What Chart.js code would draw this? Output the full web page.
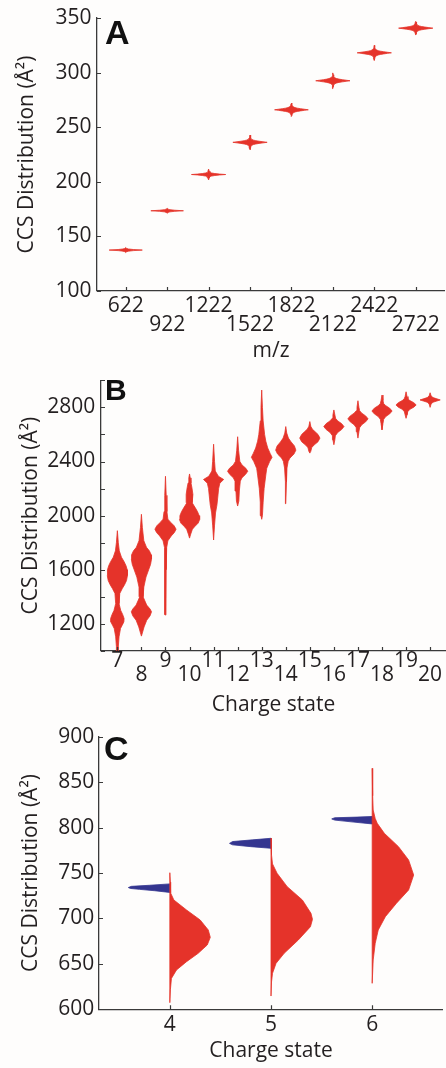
<!DOCTYPE html>
<html>
<head>
<meta charset="utf-8">
<script src="https://cdn.jsdelivr.net/npm/chart.js@4.4.1/dist/chart.umd.min.js"></script>
<style>
  body { margin: 0; background: #fefdfc; width: 446px; height: 1068px; overflow: hidden; position: relative; }
  canvas { position: absolute; left: 0; }
  .letter { position: absolute; font-family: "Liberation Sans", Arial, sans-serif; font-weight: bold; color: #111; }
</style>
</head>
<body>
<canvas id="chartA" width="446" height="362" style="top:0"></canvas>
<canvas id="chartB" width="446" height="354" style="top:362px"></canvas>
<canvas id="chartC" width="446" height="352" style="top:716px"></canvas>
<div class="letter" style="left:105px;top:14.5px;font-size:34px;line-height:34px">A</div>
<div class="letter" style="left:105px;top:375.3px;font-size:30px;line-height:30px">B</div>
<div class="letter" style="left:104px;top:730.7px;font-size:34px;line-height:34px">C</div>
<script>
// CCS distributions - three violin panels (A: m/z series, B/C: charge states)

// ---- Panel A: CCS vs m/z ----
const mzA = [622, 922, 1222, 1522, 1822, 2122, 2422, 2722];
const ccsA = [137.5, 173.5, 206.7, 236.2, 266, 292.6, 318.2, 340.8];
// [CCS offset from centre (Å²), half width (m/z)], mirrored above/below the centre
const profA = [
  [[0, 120], [0.5, 55], [1, 20], [1.5, 7], [2.3, 0]],
  [[0, 118], [0.5, 55], [1, 20], [1.5, 7], [2.3, 0]],
  [[0, 124], [0.4, 80], [0.9, 45], [1.4, 22], [1.9, 10], [3, 5], [5, 0]],
  [[0, 124], [0.5, 94], [1, 66], [1.5, 42], [2, 26], [2.7, 13], [4, 6], [5.5, 3], [6.7, 0]],
  [[0, 122], [0.5, 94], [1, 66], [1.5, 42], [2, 26], [2.7, 13], [4, 6], [5.5, 3], [6.2, 0]],
  [[0, 124], [0.5, 96], [1, 68], [1.5, 44], [2, 28], [2.7, 14], [4, 6], [5.5, 3], [7.2, 0]],
  [[0, 124], [0.5, 96], [1, 68], [1.5, 44], [2, 28], [2.7, 14], [4, 6], [5.5, 3], [6.9, 0]],
  [[0, 124], [0.5, 94], [1, 66], [1.5, 42], [2, 26], [2.7, 13], [4, 6], [5.5, 3], [6.2, 0]]
];
const yTicksA = [100, 150, 200, 250, 300, 350];

// ---- Panel B: CCS vs charge state ----
const chargeB = [7, 8, 9, 10, 11, 12, 13, 14, 15, 16, 17, 18, 19, 20];
// [CCS (Å²), half width (charge units)], top to bottom
const profB = [
  [[1889, 0], [1800, 0.04], [1740, 0.08], [1693, 0.17], [1660, 0.28], [1630, 0.36], [1600, 0.41], [1558, 0.42], [1520, 0.38], [1490, 0.3], [1460, 0.2], [1425, 0.1], [1350, 0.07], [1300, 0.14], [1270, 0.22], [1240, 0.28], [1215, 0.27], [1190, 0.2], [1166, 0.13], [1105, 0.07], [1032, 0.04], [1000, 0.03]],
  [[2010, 0], [1912, 0.04], [1815, 0.1], [1766, 0.21], [1740, 0.33], [1710, 0.41], [1680, 0.42], [1640, 0.38], [1600, 0.3], [1546, 0.19], [1472, 0.1], [1400, 0.07], [1339, 0.22], [1310, 0.36], [1290, 0.42], [1260, 0.36], [1227, 0.22], [1178, 0.11], [1140, 0.05], [1110, 0]],
  [[2291, 0], [2150, 0.03], [2030, 0.06], [1974, 0.1], [1950, 0.22], [1925, 0.36], [1900, 0.44], [1875, 0.37], [1850, 0.24], [1814, 0.1], [1765, 0.05], [1600, 0.03], [1270, 0.02], [1265, 0]],
  [[2308, 0], [2279, 0.03], [2242, 0.06], [2206, 0.1], [2157, 0.14], [2095, 0.11], [2058, 0.24], [2030, 0.33], [2000, 0.4], [1972, 0.42], [1945, 0.36], [1920, 0.22], [1900, 0.12], [1864, 0.05], [1834, 0]],
  [[2528, 0], [2400, 0.04], [2330, 0.07], [2291, 0.2], [2267, 0.42], [2240, 0.26], [2200, 0.21], [2130, 0.17], [2080, 0.14], [2020, 0.08], [1930, 0.04], [1820, 0]],
  [[2583, 0], [2480, 0.04], [2401, 0.09], [2375, 0.18], [2350, 0.34], [2328, 0.42], [2305, 0.33], [2280, 0.18], [2255, 0.11], [2182, 0.07], [2108, 0.05], [2071, 0]],
  [[2928, 0], [2800, 0.03], [2700, 0.06], [2600, 0.12], [2550, 0.17], [2500, 0.25], [2460, 0.35], [2431, 0.43], [2400, 0.33], [2350, 0.21], [2300, 0.17], [2200, 0.1], [2100, 0.06], [2000, 0.03], [1973, 0]],
  [[2658, 0], [2610, 0.04], [2573, 0.11], [2545, 0.22], [2515, 0.36], [2484, 0.42], [2455, 0.34], [2425, 0.17], [2401, 0.1], [2352, 0.05], [2250, 0.03], [2088, 0]],
  [[2695, 0], [2660, 0.04], [2640, 0.1], [2620, 0.22], [2600, 0.34], [2573, 0.42], [2546, 0.34], [2525, 0.2], [2504, 0.08], [2475, 0.04], [2462, 0]],
  [[2781, 0], [2745, 0.04], [2719, 0.07], [2700, 0.16], [2680, 0.32], [2658, 0.42], [2636, 0.32], [2615, 0.16], [2590, 0.06], [2560, 0.04], [2524, 0]],
  [[2849, 0], [2800, 0.04], [2775, 0.07], [2757, 0.16], [2737, 0.32], [2715, 0.42], [2693, 0.32], [2672, 0.16], [2650, 0.07], [2620, 0.04], [2573, 0]],
  [[2891, 0], [2850, 0.04], [2828, 0.07], [2812, 0.16], [2794, 0.32], [2773, 0.42], [2752, 0.32], [2733, 0.16], [2712, 0.07], [2680, 0.04], [2634, 0]],
  [[2915, 0], [2880, 0.04], [2862, 0.08], [2850, 0.16], [2835, 0.32], [2818, 0.42], [2801, 0.32], [2786, 0.16], [2768, 0.07], [2745, 0.04], [2719, 0]],
  [[2908, 0], [2885, 0.04], [2872, 0.12], [2863, 0.28], [2855, 0.42], [2847, 0.28], [2838, 0.12], [2825, 0.04], [2800, 0]]
];

// ---- Panel C: split violins per charge state ----
const chargeC = [4, 5, 6];
// red half (right side), [CCS, half width]
const redC = [
  [[750.3, 0], [740, 0.005], [728, 0.008], [720.3, 0.04], [709.3, 0.165], [698.3, 0.3], [687.3, 0.38], [679.2, 0.4], [670.8, 0.37], [661.6, 0.28], [652.4, 0.165], [643.3, 0.066], [634, 0.016], [622, 0.006], [607.3, 0]],
  [[788.2, 0], [770, 0.005], [760, 0.015], [749.7, 0.06], [735, 0.16], [720.3, 0.31], [705.7, 0.395], [699, 0.41], [690.9, 0.39], [676.3, 0.27], [661.6, 0.13], [650.6, 0.05], [639.6, 0.015], [630, 0.005], [614.6, 0]],
  [[865.2, 0], [835, 0.005], [819.3, 0.01], [810, 0.03], [804.7, 0.05], [793.7, 0.12], [779, 0.26], [764.3, 0.36], [747.8, 0.41], [731.3, 0.36], [716.7, 0.24], [701.9, 0.13], [687.3, 0.06], [672.6, 0.03], [654.3, 0.01], [628.6, 0]]
];
// blue half (left side), [CCS, half width]
const blueC = [
  [[738, 0], [736.5, 0.2], [735.3, 0.38], [734, 0.41], [733, 0.39], [732, 0.3], [730.5, 0.15], [728.6, 0]],
  [[788.2, 0], [786.5, 0.18], [784.6, 0.38], [782.6, 0.41], [781, 0.38], [779, 0.2], [777.2, 0]],
  [[812.2, 0], [811.5, 0.15], [810.8, 0.37], [809.5, 0.4], [808.2, 0.37], [806, 0.18], [804, 0]]
];

const RED = '#e5332a';
const BLUE = '#34358f';
const AXIS = '#3a3a3a';
const FONT = '"Open Sans", "Noto Sans", sans-serif';

Chart.defaults.font.family = FONT;
Chart.defaults.font.size = 21;
Chart.defaults.color = '#231f20';

// outline of one violin: right edge top->bottom, then left edge bottom->top
function violin(center, prof, side) {
  const right = prof.map(([y, w]) => ({ x: center + w, y: y }));
  const left = prof.map(([y, w]) => ({ x: center - w, y: y })).reverse();
  const top = prof[0][0], bottom = prof[prof.length - 1][0];
  if (side === 'right') return right.concat([{ x: center, y: bottom }, { x: center, y: top }]);
  if (side === 'left') return [{ x: center, y: top }, { x: center, y: bottom }].concat(left);
  return right.concat(left);
}

function violinSet(points, color) {
  return {
    data: points, showLine: true, fill: 'shape', tension: 0,
    backgroundColor: color, borderColor: color, borderWidth: 0.8,
    pointRadius: 0, pointHoverRadius: 0
  };
}

// MATLAB style ticks pointing into the plot
const inwardTicks = {
  id: 'inwardTicks',
  afterDraw(chart) {
    const { ctx, chartArea } = chart;
    const xs = chart.scales.x, ys = chart.scales.y;
    ctx.save();
    ctx.strokeStyle = AXIS;
    ctx.lineWidth = 1.2;
    ctx.beginPath();
    xs.ticks.forEach(t => {
      const px = Math.round(xs.getPixelForValue(t.value)) + 0.5;
      ctx.moveTo(px, chartArea.bottom);
      ctx.lineTo(px, chartArea.bottom - 4);
    });
    ys.ticks.forEach(t => {
      const py = Math.round(ys.getPixelForValue(t.value)) + 0.5;
      ctx.moveTo(chartArea.left, py);
      ctx.lineTo(chartArea.left + 4, py);
    });
    ctx.stroke();
    ctx.restore();
  }
};

function axisBase() {
  return {
    type: 'linear',
    border: { display: true, color: AXIS, width: 1.3 },
    grid: { display: true, drawOnChartArea: false, drawTicks: false, lineWidth: 0 }
  };
}

function makeChart(id, datasets, o) {
  const x = Object.assign(axisBase(), {
    min: o.xMin, max: o.xMax,
    afterBuildTicks: s => { s.ticks = o.xTicks.map(v => ({ value: v })); },
    afterFit: s => { s.height = o.xHeight; },
    ticks: {
      autoSkip: false, maxRotation: 0, minRotation: 0, padding: o.xPad,
      font: { size: 21, lineHeight: o.xLine },
      callback: (v, i) => (o.stagger && i % 2) ? ['', String(v)] : String(v)
    },
    title: { display: true, text: o.xTitle, font: { size: 21, lineHeight: 1 }, padding: { top: 0, bottom: o.xTitlePad } }
  });
  const y = Object.assign(axisBase(), {
    min: o.yMin, max: o.yMax,
    afterBuildTicks: s => { s.ticks = o.yTicks.map(v => ({ value: v })); },
    afterFit: s => { s.width = o.yWidth; },
    ticks: {
      autoSkip: false, padding: o.yPad,
      callback: v => (o.yLabels.includes(v) ? String(v) : '')
    },
    title: { display: true, text: 'CCS Distribution (Å²)', font: { size: 21, lineHeight: 1 }, padding: { top: o.yTitlePad, bottom: 0 } }
  });
  return new Chart(document.getElementById(id), {
    type: 'scatter',
    data: { datasets: datasets },
    options: {
      responsive: false, animation: false, events: [],
      layout: { padding: { top: o.top, right: o.right, left: 0, bottom: 0 } },
      plugins: { legend: { display: false }, tooltip: { enabled: false } },
      scales: { x: x, y: y }
    },
    plugins: [inwardTicks]
  });
}

// Panel A
const setsA = mzA.map((mz, i) => {
  const upper = profA[i].slice().reverse().map(([d, w]) => [ccsA[i] + d, w]);
  const lower = profA[i].slice(1).map(([d, w]) => [ccsA[i] - d, w]);
  return violinSet(violin(mz, upper.concat(lower)), RED);
});
makeChart('chartA', setsA, {
  xMin: 414, xMax: 2934, xTicks: mzA, xHeight: 71, xPad: 5.25, xLine: 0.92, stagger: true,
  xTitle: 'm/z', xTitlePad: 0.3,
  yMin: 100, yMax: 350, yTicks: yTicksA, yLabels: yTicksA, yWidth: 97, yPad: 5.5, yTitlePad: 16.4,
  top: 17, right: 1
});

// Panel B
const yTicksB = [1000, 1200, 1400, 1600, 1800, 2000, 2200, 2400, 2600, 2800, 3000];
const yLabelsB = [1200, 1600, 2000, 2400, 2800];
const setsB = chargeB.map((z, i) => violinSet(violin(z, profB[i]), RED));
makeChart('chartB', setsB, {
  xMin: 6.32, xMax: 20.66, xTicks: chargeB, xHeight: 65, xPad: 3.2, xLine: 0.667, stagger: true,
  xTitle: 'Charge state', xTitlePad: 0.3,
  yMin: 1000, yMax: 3000, yTicks: yTicksB, yLabels: yLabelsB, yWidth: 101, yPad: 5.7, yTitlePad: 20.7,
  top: 17, right: 0
});

// Panel C
const yTicksC = [600, 650, 700, 750, 800, 850, 900];
const setsC = chargeC.map((z, i) => violinSet(violin(z, redC[i], 'right'), RED))
  .concat(chargeC.map((z, i) => violinSet(violin(z, blueC[i], 'left'), BLUE)));
makeChart('chartC', setsC, {
  xMin: 3.3, xMax: 6.7, xTicks: chargeC, xHeight: 58.7, xPad: 5.4, xLine: 1, stagger: false,
  xTitle: 'Charge state', xTitlePad: 6.3,
  yMin: 600, yMax: 900, yTicks: yTicksC, yLabels: yTicksC, yWidth: 99, yPad: 4.7, yTitlePad: 20.7,
  top: 20.7, right: 3
});
</script>
</body>
</html>
